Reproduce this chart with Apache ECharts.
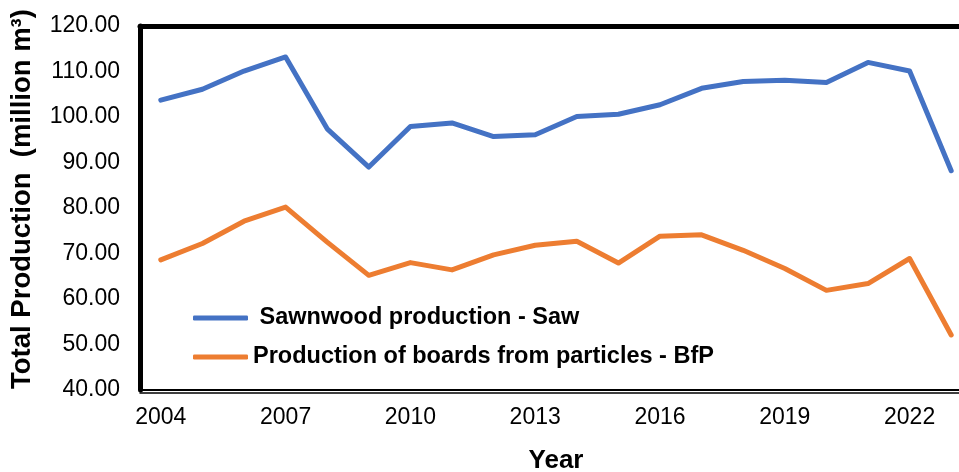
<!DOCTYPE html>
<html>
<head>
<meta charset="utf-8">
<script src="https://cdn.jsdelivr.net/npm/echarts@6/dist/echarts.min.js"></script>
<style>
  html, body { margin: 0; padding: 0; background: #fff; }
  #main { width: 959px; height: 472px; }
</style>
</head>
<body>
<div id="main"></div>
<script>
var years = ["2004", "2005", "2006", "2007", "2008", "2009", "2010", "2011", "2012", "2013",
  "2014", "2015", "2016", "2017", "2018", "2019", "2020", "2021", "2022", "2023"];
var sawData = [103.7, 106.1, 110.1, 113.2, 97.4, 89.0, 97.9, 98.7, 95.7, 96.1,
  100.1, 100.6, 102.7, 106.3, 107.8, 108.1, 107.6, 112.0, 110.1, 88.2];
var bfpData = [68.6, 72.2, 77.1, 80.2, 72.5, 65.2, 68.0, 66.4, 69.7, 71.8,
  72.7, 67.9, 73.8, 74.1, 70.7, 66.7, 61.9, 63.4, 68.9, 52.1];
var seriesNames = ["Sawnwood production - Saw", "Production of boards from particles - BfP"];

var font = "Arial, 'Liberation Sans', sans-serif";
var chart = echarts.init(document.getElementById("main"));

var option = {
  backgroundColor: "#fff",
  animation: false,
  grid: { left: 140, top: 26, bottom: 82, width: 832, outerBoundsMode: "none", containLabel: false },
  legend: {
    orient: "vertical",
    left: 188,
    top: 301,
    itemWidth: 55,
    itemHeight: 5,
    itemGap: 15,
    icon: "roundRect",
    formatter: function (name) {
      return name === seriesNames[0] ? " " + name : name;
    },
    textStyle: { fontFamily: font, fontSize: 23.5, fontWeight: "bold", color: "#000" },
    data: seriesNames
  },
  xAxis: [
    {
      type: "category",
      data: years,
      position: "bottom",
      name: "Year",
      nameLocation: "middle",
      nameGap: 58,
      nameTextStyle: { fontFamily: font, fontSize: 26, fontWeight: "bold", color: "#000" },
      axisLine: { lineStyle: { color: "#000", width: 2 } },
      axisTick: { show: false },
      axisLabel: { interval: 2, margin: 16, fontFamily: font, fontSize: 23, color: "#000" }
    },
    {
      type: "category",
      data: years,
      position: "bottom",
      offset: 3,
      axisLine: { lineStyle: { color: "#000", width: 1.5 } },
      axisTick: { show: false },
      axisLabel: { show: false }
    },
    {
      type: "category",
      data: years,
      position: "top",
      axisLine: { lineStyle: { color: "#000", width: 5 } },
      axisTick: { show: false },
      axisLabel: { show: false }
    }
  ],
  yAxis: {
    type: "value",
    min: 40,
    max: 120,
    interval: 10,
    name: "Total Production  (million m\u00b3)",
    nameLocation: "middle",
    nameGap: 104,
    nameTextStyle: {
      fontFamily: font, fontSize: 27.5, fontWeight: "bold", color: "#000",
      padding: [0, 0, 0, 18]
    },
    axisLine: { show: true, lineStyle: { color: "#000", width: 5 } },
    axisTick: { show: false },
    splitLine: { show: false },
    axisLabel: {
      margin: 20,
      fontFamily: font,
      fontSize: 23,
      color: "#000",
      formatter: function (v) { return v.toFixed(2); }
    }
  },
  series: [
    {
      name: seriesNames[0],
      type: "line",
      data: sawData,
      symbol: "none",
      color: "#4472C4",
      lineStyle: { width: 5, cap: "round", join: "round" }
    },
    {
      name: seriesNames[1],
      type: "line",
      data: bfpData,
      symbol: "none",
      color: "#ED7D31",
      lineStyle: { width: 5, cap: "round", join: "round" }
    }
  ]
};
chart.setOption(option);
</script>
</body>
</html>
